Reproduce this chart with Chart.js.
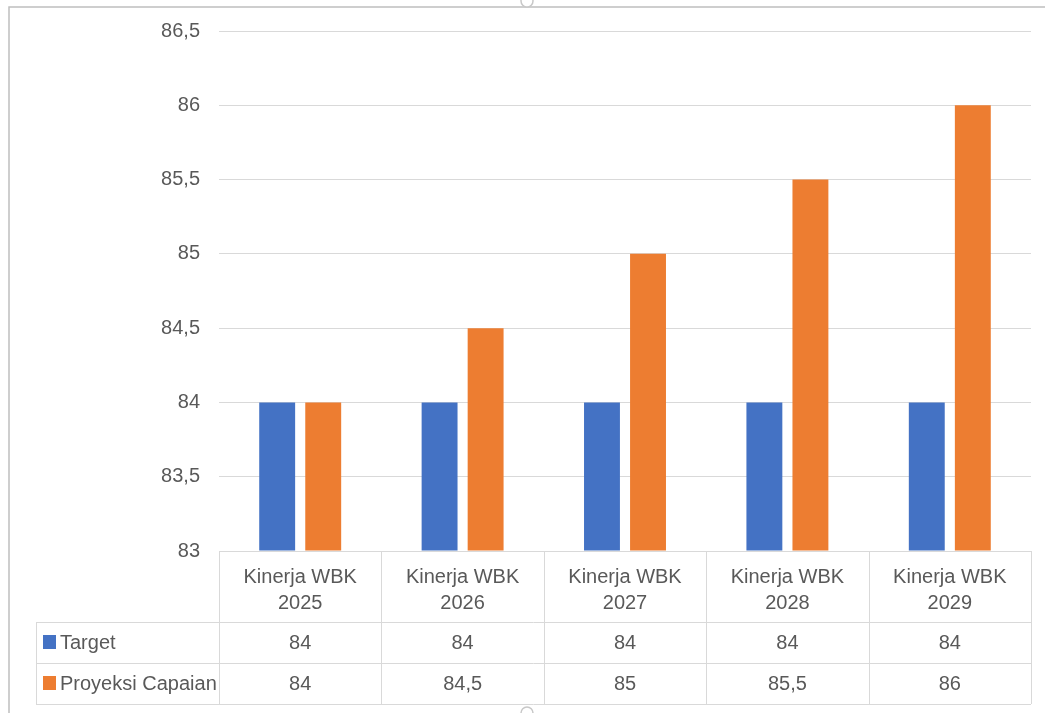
<!DOCTYPE html>
<html>
<head>
<meta charset="utf-8">
<script src="https://cdn.jsdelivr.net/npm/chart.js@4"></script>
<style>
  html, body { margin: 0; padding: 0; background: #ffffff; }
  #wrap { width: 1045px; height: 713px; position: relative; }
</style>
</head>
<body>
<div id="wrap"><canvas id="c" width="1045" height="713"></canvas></div>
<script>
const categories = ['Kinerja WBK 2025', 'Kinerja WBK 2026', 'Kinerja WBK 2027', 'Kinerja WBK 2028', 'Kinerja WBK 2029'];
const categoryLines = [['Kinerja WBK', '2025'], ['Kinerja WBK', '2026'], ['Kinerja WBK', '2027'], ['Kinerja WBK', '2028'], ['Kinerja WBK', '2029']];
const targetValues = [84, 84, 84, 84, 84];
const proyeksiValues = [84, 84.5, 85, 85.5, 86];
const seriesNames = ['Target', 'Proyeksi Capaian'];
const seriesColors = ['#4472C4', '#ED7D31'];
const yMin = 83, yMax = 86.5, yStep = 0.5;

const FONT = '"Liberation Sans", Arial, sans-serif';
const TXT = '#595959';
const LINE = '#d9d9d9';

function fmt(v) { return String(v).replace('.', ','); }

const tablePlugin = {
  id: 'dataTable',
  afterDraw(chart) {
    const ctx = chart.ctx;
    const x = chart.scales.x;
    const area = chart.chartArea;
    const n = categories.length;
    const colW = (area.right - area.left) / n;
    const top = area.bottom;
    const hdrH = 71, rowH = 41;
    const r1 = top + hdrH, r2 = r1 + rowH, r3 = r2 + rowH;
    const legLeft = 36;
    ctx.save();
    // outer frame
    ctx.strokeStyle = '#bfbfbf';
    ctx.lineWidth = 1.5;
    ctx.beginPath();
    ctx.moveTo(9, 713); ctx.lineTo(9, 7); ctx.lineTo(1045, 7);
    ctx.stroke();
    // table grid
    ctx.strokeStyle = LINE;
    ctx.lineWidth = 1;
    ctx.beginPath();
    ctx.moveTo(area.left, top + 0.5); ctx.lineTo(area.right, top + 0.5);
    [r1, r2, r3].forEach(y => { ctx.moveTo(legLeft, y + 0.5); ctx.lineTo(area.right, y + 0.5); });
    for (let i = 0; i <= n; i++) {
      const xx = Math.round(area.left + i * colW) + 0.5;
      ctx.moveTo(xx, top); ctx.lineTo(xx, r3);
    }
    ctx.moveTo(legLeft + 0.5, r1); ctx.lineTo(legLeft + 0.5, r3);
    ctx.stroke();
    // text
    ctx.fillStyle = TXT;
    ctx.font = '20px ' + FONT;
    ctx.textAlign = 'center';
    ctx.textBaseline = 'middle';
    const rows = [targetValues, proyeksiValues];
    for (let i = 0; i < n; i++) {
      const cx = x.getPixelForValue(i);
      ctx.fillText(categoryLines[i][0], cx, top + 26);
      ctx.fillText(categoryLines[i][1], cx, top + 52);
      ctx.fillText(fmt(rows[0][i]), cx, r1 + rowH / 2 + 1);
      ctx.fillText(fmt(rows[1][i]), cx, r2 + rowH / 2 + 1);
    }
    ctx.textAlign = 'left';
    [r1, r2].forEach((ry, k) => {
      ctx.fillStyle = seriesColors[k];
      ctx.fillRect(43, ry + 13, 13, 14);
      ctx.fillStyle = TXT;
      ctx.fillText(seriesNames[k], 60, ry + rowH / 2 + 1);
    });
    // selection handles
    ctx.strokeStyle = '#c8c8c8';
    ctx.fillStyle = '#ffffff';
    ctx.lineWidth = 1.5;
    ctx.beginPath(); ctx.arc(527, 1, 6, 0, Math.PI * 2); ctx.fill(); ctx.stroke();
    ctx.beginPath(); ctx.arc(527, 713, 6, 0, Math.PI * 2); ctx.fill(); ctx.stroke();
    ctx.restore();
  }
};

new Chart(document.getElementById('c'), {
  type: 'bar',
  data: {
    labels: categories,
    datasets: [
      { label: seriesNames[0], data: targetValues, backgroundColor: seriesColors[0], base: yMin },
      { label: seriesNames[1], data: proyeksiValues, backgroundColor: seriesColors[1], base: yMin }
    ]
  },
  options: {
    responsive: false,
    animation: false,
    events: [],
    layout: { padding: { left: 0, top: 31, right: 14, bottom: 162 } },
    categoryPercentage: 0.567,
    barPercentage: 0.78,
    plugins: { legend: { display: false }, tooltip: { enabled: false } },
    scales: {
      x: { display: false },
      y: {
        min: yMin, max: yMax,
        afterFit(scale) { scale.width = 219; },
        ticks: {
          stepSize: yStep,
          padding: 19,
          color: TXT,
          font: { family: FONT, size: 20 },
          callback: (v) => fmt(v)
        },
        grid: { color: LINE, drawTicks: false, lineWidth: 1 },
        border: { display: false }
      }
    }
  },
  plugins: [tablePlugin]
});
</script>
</body>
</html>
